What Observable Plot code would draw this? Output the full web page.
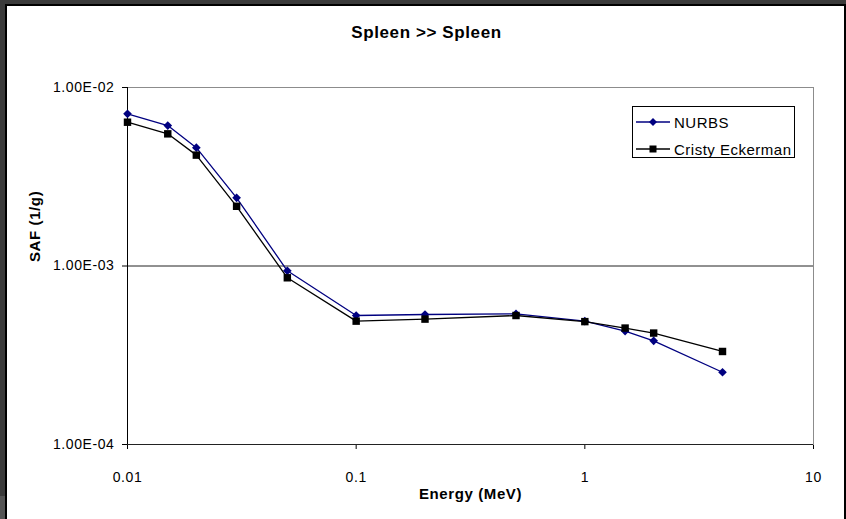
<!DOCTYPE html>
<html><head><meta charset="utf-8">
<script src="https://cdn.jsdelivr.net/npm/d3@7"></script>
<script src="https://cdn.jsdelivr.net/npm/@observablehq/plot@0.6"></script>
<style>
html,body{margin:0;padding:0;background:#3b3b3b;}
#wrap{position:relative;width:846px;height:519px;overflow:hidden;background:#3b3b3b;}
#patch{position:absolute;left:0;top:496px;width:5px;height:23px;background:#555;}
#panel{position:absolute;left:5px;top:4px;width:837px;height:520px;background:#fff;border:2px solid #000;border-bottom:none;}
#chart{position:absolute;left:0;top:0;}
#legend{position:absolute;left:632px;top:106px;width:161px;height:50px;border:1px solid #000;background:#fff;font-family:"Liberation Sans",Arial,sans-serif;font-size:15px;letter-spacing:0.5px;}
#legend .row{position:absolute;left:3px;height:20px;display:flex;align-items:center;}
#legend svg{display:block;margin-right:4px;}
</style></head>
<body>
<div id="wrap"><div id="patch"></div><div id="panel"></div><div id="chart"></div><div id="legend"></div></div>
<script>
const energies = [0.01, 0.015, 0.02, 0.03, 0.05, 0.1, 0.2, 0.5, 1, 1.5, 2, 4];
const nurbs = [7.12e-3, 6.12e-3, 4.6e-3, 2.41e-3, 9.4e-4, 5.28e-4, 5.35e-4, 5.39e-4, 4.91e-4, 4.32e-4, 3.81e-4, 2.54e-4];
const cristy = [6.39e-3, 5.5e-3, 4.18e-3, 2.16e-3, 8.59e-4, 4.91e-4, 5.04e-4, 5.28e-4, 4.88e-4, 4.49e-4, 4.21e-4, 3.32e-4];
const seriesNames = ["NURBS", "Cristy Eckerman"];
const xTicks = [0.01, 0.1, 1, 10];
const yTicks = [1e-4, 1e-3, 1e-2];
const titleText = "Spleen >> Spleen";
const xLabel = "Energy (MeV)";
const yLabel = "SAF (1/g)";

const nurbsData = energies.map((e, i) => ({energy: e, saf: nurbs[i]}));
const cristyData = energies.map((e, i) => ({energy: e, saf: cristy[i]}));

const fmtE = d => {
  const e = Math.round(Math.log10(d));
  const m = d / Math.pow(10, e);
  return m.toFixed(2) + "E" + (e < 0 ? "-" : "+") + String(Math.abs(e)).padStart(2, "0");
};

const NAVY = "#000080";

const chart = Plot.plot({
  width: 846,
  height: 519,
  marginLeft: 127,
  marginRight: 33,
  marginTop: 87,
  marginBottom: 75,
  style: {fontFamily: "'Liberation Sans', Arial, sans-serif", fontSize: "14px", letterSpacing: "0.6px", background: "transparent", overflow: "visible", color: "#000"},
  x: {type: "log", domain: [0.01, 10], ticks: xTicks, tickFormat: d => String(d), tickSize: 5, tickPadding: 23, label: null},
  y: {type: "log", domain: [1e-4, 1e-2], ticks: yTicks, tickFormat: fmtE, tickSize: 5, tickPadding: 8, label: null},
  marks: [
    Plot.frame({stroke: "#8c8c8c"}),
    Plot.ruleY([1e-3], {stroke: "#222"}),
    Plot.ruleX([0.01], {stroke: "#000"}),
    Plot.ruleY([1e-4], {stroke: "#222"}),
    Plot.line(nurbsData, {x: "energy", y: "saf", stroke: NAVY, strokeWidth: 1.3}),
    Plot.dot(nurbsData, {x: "energy", y: "saf", symbol: "diamond2", r: 3.9, fill: NAVY, stroke: "none"}),
    Plot.line(cristyData, {x: "energy", y: "saf", stroke: "#000", strokeWidth: 1.3}),
    Plot.dot(cristyData, {x: "energy", y: "saf", symbol: "square", r: 4.2, fill: "#000", stroke: "none"}),
    Plot.text([titleText], {frameAnchor: "top", dx: -44, dy: -62, fontWeight: "bold", fontSize: 17, fill: "#000"}),
    Plot.text([xLabel], {frameAnchor: "bottom", dy: 54, fontWeight: "bold", fontSize: 15, fill: "#000"}),
    Plot.text([yLabel], {frameAnchor: "left", dx: -92, dy: -4, rotate: -90, fontWeight: "bold", fontSize: 15, fill: "#000"})
  ]
});
document.getElementById("chart").appendChild(chart);

// legend
const legend = document.getElementById("legend");
const styles = [{color: NAVY, sym: "diamond"}, {color: "#000", sym: "square"}];
seriesNames.forEach((name, i) => {
  const row = document.createElement("div");
  row.className = "row";
  row.style.top = (i === 0 ? 5 : 32) + "px";
  const s = styles[i];
  const ns = "http://www.w3.org/2000/svg";
  const svg = document.createElementNS(ns, "svg");
  svg.setAttribute("width", 34); svg.setAttribute("height", 12);
  const ln = document.createElementNS(ns, "line");
  ln.setAttribute("x1", 0); ln.setAttribute("x2", 34); ln.setAttribute("y1", 6); ln.setAttribute("y2", 6);
  ln.setAttribute("stroke", s.color); ln.setAttribute("stroke-width", 1.3);
  svg.appendChild(ln);
  if (s.sym === "diamond") {
    const p = document.createElementNS(ns, "path");
    p.setAttribute("d", "M17,2L21,6L17,10L13,6Z"); p.setAttribute("fill", s.color);
    svg.appendChild(p);
  } else {
    const r = document.createElementNS(ns, "rect");
    r.setAttribute("x", 13.5); r.setAttribute("y", 2.5); r.setAttribute("width", 7); r.setAttribute("height", 7); r.setAttribute("fill", s.color);
    svg.appendChild(r);
  }
  row.appendChild(svg);
  const t = document.createElement("span");
  t.textContent = name;
  row.appendChild(t);
  legend.appendChild(row);
});
</script>
</body></html>
